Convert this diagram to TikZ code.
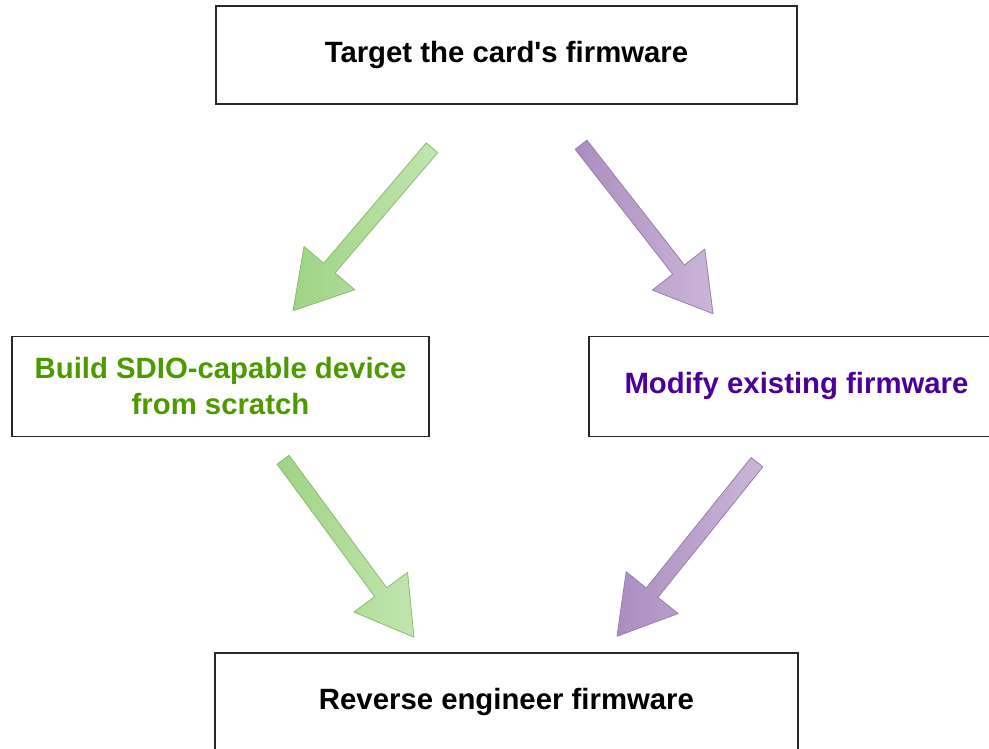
\documentclass[tikz,border=0pt]{standalone}
\usepackage{fontspec}
\setmainfont{Liberation Sans}
\usetikzlibrary{calc,positioning}
\definecolor{boxline}{RGB}{40,40,40}
\definecolor{buildgreen}{RGB}{77,153,0}
\definecolor{modifypurple}{RGB}{76,0,153}
\definecolor{greenline}{RGB}{140,185,115}
\definecolor{greendark}{RGB}{158,212,132}
\definecolor{greenlight}{RGB}{192,230,175}
\definecolor{purpleline}{RGB}{155,125,170}
\definecolor{purpledark}{RGB}{172,140,192}
\definecolor{purplelight}{RGB}{202,182,216}
\tikzset{
    node distance=4cm, % overridden below for the side boxes
    box/.style={draw=boxline, line width=1.1pt, align=center, inner sep=0pt,
        font=\bfseries\fontsize{22}{27}\selectfont}, % every step of the plan
    greenarrow/.style={draw=greenline, line width=0.6pt, line join=round,
        left color=greendark, right color=greenlight},
    purplearrow/.style={draw=purpleline, line width=0.6pt, line join=round,
        left color=purpledark, right color=purplelight},
}
% fat block arrow: style, tail, tip
\newcommand\fatarrow[3]{%
  \coordinate (fat_b) at ($(#3)!42pt!(#2)$);
  \path[#1] ($(#2)!5.6pt!90:(#3)$) -- ($(fat_b)!5.6pt!90:(#3)$) -- ($(fat_b)!25pt!90:(#3)$)
    -- (#3) -- ($(fat_b)!25pt!-90:(#3)$) -- ($(fat_b)!5.6pt!-90:(#3)$) -- ($(#2)!5.6pt!-90:(#3)$) -- cycle;
}

\begin{document}
\begin{tikzpicture}[on grid,auto]
      \useasboundingbox (-379.875pt,41.25pt) rectangle (361.875pt,-520.5pt);
      \node (q_target) [box, minimum width=435.75pt, minimum height=73.5pt] at (0,0) {Target the card\textquotesingle s firmware};
      \node (q_build) [below left=248.6pt and 214.5pt of q_target, box, text=buildgreen,
          minimum width=312.75pt, minimum height=75pt] {Build SDIO-capable device\\from scratch};
      \node (q_modify) [below right=248.6pt and 217.5pt of q_target, box, text=modifypurple,
          minimum width=311.25pt, minimum height=75pt] {Modify existing firmware};
      \node (q_reverse) [below=485.25pt of q_target, box, minimum width=437.25pt, minimum height=73.5pt] {Reverse engineer firmware};

      % ends of the arrows
      \coordinate (a_tb_s) at ([shift={(-55.9pt,-32.3pt)}]q_target.south);
      \coordinate (a_tb_e) at ([shift={(54.4pt,18.75pt)}]q_build.north);
      \coordinate (a_tm_s) at ([shift={(55.9pt,-30pt)}]q_target.south);
      \coordinate (a_tm_e) at ([shift={(-62.6pt,16.5pt)}]q_modify.north);
      \coordinate (a_br_s) at ([shift={(46.9pt,-16.9pt)}]q_build.south);
      \coordinate (a_br_e) at ([shift={(-69.4pt,11.25pt)}]q_reverse.north);
      \coordinate (a_mr_s) at ([shift={(-29.6pt,-18.75pt)}]q_modify.south);
      \coordinate (a_mr_e) at ([shift={(82.9pt,12pt)}]q_reverse.north);

      \fatarrow{greenarrow}{a_tb_s}{a_tb_e}
      \fatarrow{purplearrow}{a_tm_s}{a_tm_e}
      \fatarrow{greenarrow}{a_br_s}{a_br_e}
      \fatarrow{purplearrow}{a_mr_s}{a_mr_e}
    \end{tikzpicture}
\end{document}
